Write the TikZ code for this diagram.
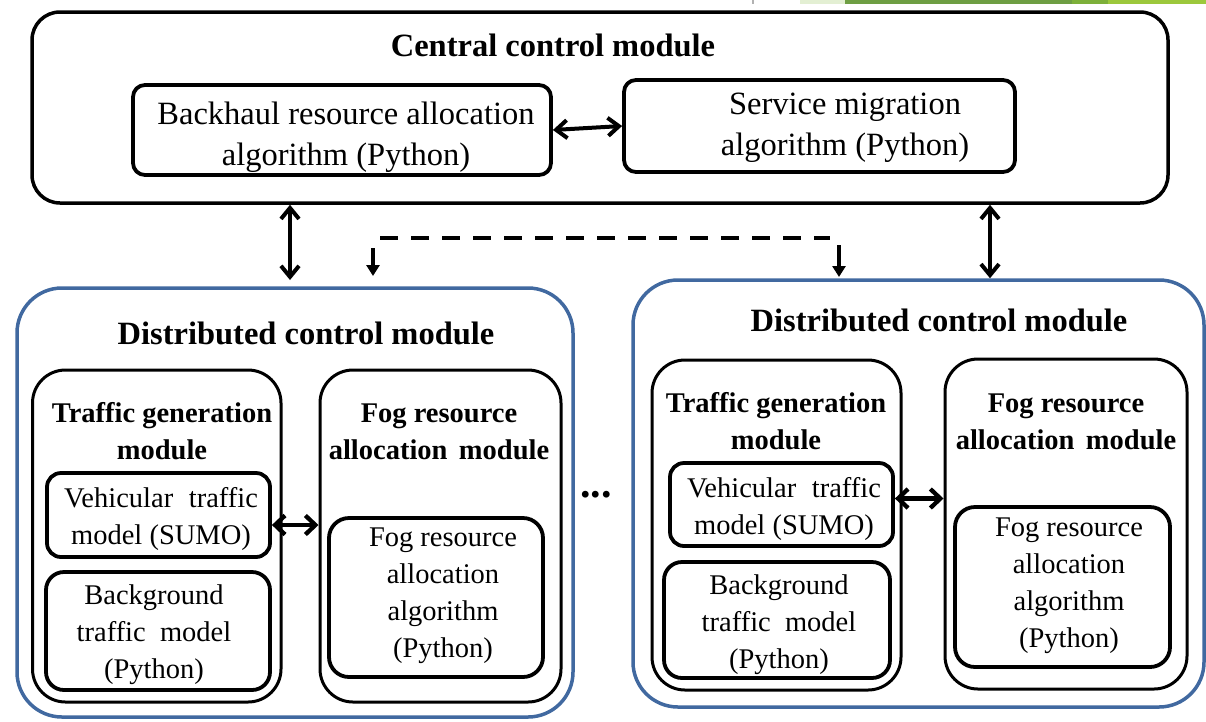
\documentclass[tikz,border=0pt]{standalone}
\usepackage{fontspec}
\setmainfont{Liberation Serif}
\usetikzlibrary{arrows.meta,calc}
\definecolor{frameblue}{RGB}{65,105,160}
\definecolor{stripA}{RGB}{227,239,211}
\definecolor{stripB}{RGB}{110,158,67}
\definecolor{stripC}{RGB}{125,176,58}
\definecolor{stripD}{RGB}{156,200,60}
\newcommand\fsbig{\fontsize{32.5}{41}\selectfont}
\newcommand\fssmall{\fontsize{28.5}{37}\selectfont}
\begin{document}
\begin{tikzpicture}[x=1pt,y=-1pt,line join=round,
  box/.style={draw=black, line width=3pt, inner sep=0pt, rectangle},
  leaf/.style={box, line width=3.8pt},
  outer/.style={draw=frameblue, line width=3.5pt, inner sep=0pt, rectangle, rounded corners=45pt},
  lbl/.style={align=center, inner sep=0pt},
  head/.style={lbl, font=\fsbig\bfseries},
  subhead/.style={lbl, font=\fssmall\bfseries},
  bigtxt/.style={lbl, font=\fsbig},
  smalltxt/.style={lbl, font=\fssmall},
  dbl/.style={{Straight Barb[length=11pt,width=18pt]}-{Straight Barb[length=11pt,width=18pt]}, line width=4pt},
  dblsmall/.style={{Straight Barb[length=10pt,width=19pt]}-{Straight Barb[length=10pt,width=19pt]}, line width=4.3pt},
  dashline/.style={line width=4pt, dash pattern=on 18pt off 13pt},
  drop/.style={-{Triangle[length=11pt,width=13pt]}, line width=3.5pt}
]
\useasboundingbox (0,0) rectangle (1206,721);

% decorative strip along the top edge
\fill[gray!60] (752,0) rectangle (754,4);
\fill[stripA] (800,0) rectangle (845,3.5);
\fill[stripB] (845,0) rectangle (1072,3.5);
\fill[stripC] (1072,0) rectangle (1108,3.5);
\fill[stripD] (1108,0) rectangle (1206,3.5);

% central control module
\node[box, line width=3.5pt, rounded corners=28pt, minimum width=1136pt, minimum height=191pt] (central) at (600,107.5) {};
\node[head] (centralT) at (553,45) {Central control module};
\node[box, line width=3.8pt, rounded corners=12pt, minimum width=418pt, minimum height=90pt] (backhaul) at (342,130) {};
\node[bigtxt] (backhaulT) at (346,137) {Backhaul resource allocation\\algorithm (Python)};
\node[box, line width=3.8pt, rounded corners=12pt, minimum width=391pt, minimum height=92pt] (service) at (819.5,126) {};
\node[bigtxt] (serviceT) at (845,127.5) {Service migration\\algorithm (Python)};
\draw[dbl] (backhaul.east) -- (service.west);

% left distributed control module
\node[outer, minimum width=556pt, minimum height=429pt] (distL) at (295,502.5) {};
\node[head] (distLT) at (306,333) {Distributed control module};
\node[box, rounded corners=33pt, minimum width=248.5pt, minimum height=332pt] (trafL) at (156.75,536) {};
\node[subhead] (trafLT) at (162,431.5) {Traffic generation\\module};
\node[leaf, rounded corners=14pt, minimum width=223pt, minimum height=84pt] (vehL) at (158.5,515) {};
\node[smalltxt] (vehLT) at (161,518.5) {Vehicular\hspace{0.3em} traffic\\model (SUMO)};
\node[leaf, rounded corners=18pt, minimum width=224pt, minimum height=118pt] (bgL) at (158,631) {};
\node[smalltxt] (bgLT) at (154,635) {Background\\traffic\hspace{0.25em} model\\(Python)};
\node[box, rounded corners=33pt, minimum width=241pt, minimum height=332pt] (fogL) at (440.5,536) {};
\node[subhead] (fogLT) at (439,431.5) {Fog resource\\allocation\hspace{0.15em} module};
\node[leaf, rounded corners=20pt, minimum width=214pt, minimum height=159pt] (algL) at (436,597.5) {};
\node[smalltxt] (algLT) at (443,596) {Fog resource\\allocation\\algorithm\\(Python)};
\coordinate (linkL) at ($(vehL.east)+(0,10)$);
\draw[dblsmall] (linkL) -- (linkL -| fogL.west);

% right distributed control module
\node[outer, minimum width=571pt, minimum height=427pt] (distR) at (918.5,493.5) {};
\node[head] (distRT) at (939,320) {Distributed control module};
\node[box, rounded corners=33pt, minimum width=249pt, minimum height=330pt] (trafR) at (776.5,525) {};
\node[subhead] (trafRT) at (776,421.5) {Traffic generation\\module};
\node[leaf, rounded corners=14pt, minimum width=223pt, minimum height=83pt] (vehR) at (781.5,504.5) {};
\node[smalltxt] (vehRT) at (784,508.5) {Vehicular\hspace{0.3em} traffic\\model (SUMO)};
\node[leaf, rounded corners=18pt, minimum width=226pt, minimum height=116pt] (bgR) at (777,620) {};
\node[smalltxt] (bgRT) at (779,625) {Background\\traffic\hspace{0.25em} model\\(Python)};
\node[box, rounded corners=33pt, minimum width=242pt, minimum height=330pt] (fogR) at (1066,524) {};
\node[subhead] (fogRT) at (1066,421.5) {Fog resource\\allocation\hspace{0.15em} module};
\node[leaf, rounded corners=20pt, minimum width=215pt, minimum height=160pt] (algR) at (1062.5,587) {};
\node[smalltxt] (algRT) at (1069,586) {Fog resource\\allocation\\algorithm\\(Python)};
\coordinate (linkR) at ($(vehR.east)+(0,-6)$);
\draw[dblsmall] (linkR) -- (linkR -| fogR.west);

% ellipsis between the distributed modules
\node[lbl, font=\fontsize{42}{42}\selectfont\bfseries] (dots) at (596,495) {...};

% links from the central module down to the distributed modules
\coordinate (upL) at (290,280);
\draw[dbl] (upL |- central.south) -- (upL);
\coordinate (upR) at (990,280);
\draw[dbl] (upR |- central.south) -- (upR |- distR.north);

% dashed link between the two distributed modules
\coordinate (dashL) at (380,238);
\coordinate (dashR) at (830,238);
\draw[dashline] (dashL) -- (dashR);
\coordinate (dropLs) at (373,248);
\coordinate (dropLe) at (373,276);
\coordinate (dropRs) at (839,245);
\coordinate (dropRe) at (839,277);
\draw[drop] (dropLs) -- (dropLe);
\draw[drop] (dropRs) -- (dropRe);
\end{tikzpicture}
\end{document}
